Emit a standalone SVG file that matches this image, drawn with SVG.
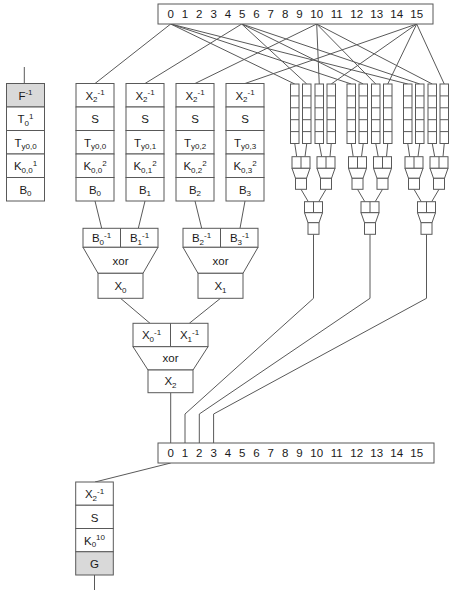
<svg xmlns="http://www.w3.org/2000/svg" width="458" height="600" viewBox="0 0 458 600">
<style>
.b{fill:#fff;stroke:#595959;stroke-width:1}
.g{fill:#d9d9d9;stroke:#595959;stroke-width:1}
.l{fill:none;stroke:#595959;stroke-width:1}
text{font-family:"Liberation Sans",Arial,sans-serif;font-size:11.5px;fill:#1a1a1a;text-anchor:middle}
.n{font-size:11.5px}
.s{font-size:8px}
</style>
<rect width="458" height="600" fill="#fff"/>
<g id="connectors" class="l">
<path d="M170.7 24L95 83.5M170.7 24L294.75 84M170.7 24L351.25 84M170.7 24L407.75 84"/>
<path d="M241.7 24L145 83.5M241.7 24L306.75 84M241.7 24L363.25 84M241.7 24L419.75 84"/>
<path d="M316.7 24L195 83.5M316.7 24L319.25 84M316.7 24L375.75 84M316.7 24L432.25 84"/>
<path d="M416.7 24L245 83.5M416.7 24L331.25 84M416.7 24L387.75 84M416.7 24L444.25 84"/>
<path d="M24.3 67V83.5"/>
<path d="M294.75 143.5L296.7 156.7M306.75 143.5L305 156.7M319.25 143.5L321.7 156.7M331.25 143.5L330 156.7"/>
<path d="M351.25 143.5L353.2 156.7M363.25 143.5L361.5 156.7M375.75 143.5L378.2 156.7M387.75 143.5L386.5 156.7"/>
<path d="M407.75 143.5L409.7 156.7M419.75 143.5L418 156.7M432.25 143.5L434.7 156.7M444.25 143.5L443 156.7"/>
<path d="M301 189.3L308.3 201.7M326 189.3L318.7 201.7M357.5 189.3L364.8 201.7M382.5 189.3L375.2 201.7M414 189.3L421.3 201.7M439 189.3L431.7 201.7"/>
<path d="M313.5 234.3V298.3L185 414V443M370 234.3V298.3L199.3 414V443M426.5 234.3V298.3L213.6 414V443"/>
<path d="M95 201L101.7 228.3M145 201L138.3 228.3M195 201L201.7 228.3M245 201L240 228.3"/>
<path d="M120.5 298.3L150 323.3M220.5 298.3L189.3 323.3"/>
<path d="M170.7 392.7V443"/>
<path d="M170.7 463L95 482M94.5 575V590"/>
</g>
<g id="top-bar">
<rect class="b" x="158" y="4" width="275" height="20"/>
<text class="n" y="18.2"><tspan x="170.7">0</tspan><tspan x="185">1</tspan><tspan x="199.3">2</tspan><tspan x="213.6">3</tspan><tspan x="227.9">4</tspan><tspan x="242.2">5</tspan><tspan x="256.5">6</tspan><tspan x="270.8">7</tspan><tspan x="285.1">8</tspan><tspan x="299.4">9</tspan><tspan x="316.7">10</tspan><tspan x="336.7">11</tspan><tspan x="356.7">12</tspan><tspan x="376.7">13</tspan><tspan x="396.7">14</tspan><tspan x="416.7">15</tspan></text>
</g>
<g id="bottom-bar">
<rect class="b" x="158" y="443" width="276" height="20"/>
<text class="n" y="457.2"><tspan x="170.7">0</tspan><tspan x="185">1</tspan><tspan x="199.3">2</tspan><tspan x="213.6">3</tspan><tspan x="227.9">4</tspan><tspan x="242.2">5</tspan><tspan x="256.5">6</tspan><tspan x="270.8">7</tspan><tspan x="285.1">8</tspan><tspan x="299.4">9</tspan><tspan x="316.7">10</tspan><tspan x="336.7">11</tspan><tspan x="356.7">12</tspan><tspan x="376.7">13</tspan><tspan x="396.7">14</tspan><tspan x="416.7">15</tspan></text>
</g>
<g id="col-f">
<rect class="g" x="6.5" y="83.5" width="38" height="23.5"/>
<rect class="b" x="6.5" y="107" width="38" height="23.5"/>
<rect class="b" x="6.5" y="130.5" width="38" height="23.5"/>
<rect class="b" x="6.5" y="154" width="38" height="23.5"/>
<rect class="b" x="6.5" y="177.5" width="38" height="23.5"/>
<text x="25.5" y="99.5">F<tspan class="s" dy="-4.5">-1</tspan></text>
<text x="25.5" y="123">T<tspan class="s" dy="2.5">0</tspan><tspan class="s" dy="-7">1</tspan></text>
<text x="25.5" y="146.5">T<tspan class="s" dy="2.5">y0,0</tspan></text>
<text x="25.5" y="170">K<tspan class="s" dy="2.5">0,0</tspan><tspan class="s" dy="-7">1</tspan></text>
<text x="25.5" y="193.5">B<tspan class="s" dy="2.5">0</tspan></text>
</g>
<g id="col-b0">
<rect class="b" x="76" y="83.5" width="38" height="23.5"/>
<rect class="b" x="76" y="107" width="38" height="23.5"/>
<rect class="b" x="76" y="130.5" width="38" height="23.5"/>
<rect class="b" x="76" y="154" width="38" height="23.5"/>
<rect class="b" x="76" y="177.5" width="38" height="23.5"/>
<text x="95" y="99.5">X<tspan class="s" dy="2.5">2</tspan><tspan class="s" dy="-7">-1</tspan></text>
<text x="95" y="123">S</text>
<text x="95" y="146.5">T<tspan class="s" dy="2.5">y0,0</tspan></text>
<text x="95" y="170">K<tspan class="s" dy="2.5">0,0</tspan><tspan class="s" dy="-7">2</tspan></text>
<text x="95" y="193.5">B<tspan class="s" dy="2.5">0</tspan></text>
</g>
<g id="col-b1">
<rect class="b" x="126" y="83.5" width="38" height="23.5"/>
<rect class="b" x="126" y="107" width="38" height="23.5"/>
<rect class="b" x="126" y="130.5" width="38" height="23.5"/>
<rect class="b" x="126" y="154" width="38" height="23.5"/>
<rect class="b" x="126" y="177.5" width="38" height="23.5"/>
<text x="145" y="99.5">X<tspan class="s" dy="2.5">2</tspan><tspan class="s" dy="-7">-1</tspan></text>
<text x="145" y="123">S</text>
<text x="145" y="146.5">T<tspan class="s" dy="2.5">y0,1</tspan></text>
<text x="145" y="170">K<tspan class="s" dy="2.5">0,1</tspan><tspan class="s" dy="-7">2</tspan></text>
<text x="145" y="193.5">B<tspan class="s" dy="2.5">1</tspan></text>
</g>
<g id="col-b2">
<rect class="b" x="176" y="83.5" width="38" height="23.5"/>
<rect class="b" x="176" y="107" width="38" height="23.5"/>
<rect class="b" x="176" y="130.5" width="38" height="23.5"/>
<rect class="b" x="176" y="154" width="38" height="23.5"/>
<rect class="b" x="176" y="177.5" width="38" height="23.5"/>
<text x="195" y="99.5">X<tspan class="s" dy="2.5">2</tspan><tspan class="s" dy="-7">-1</tspan></text>
<text x="195" y="123">S</text>
<text x="195" y="146.5">T<tspan class="s" dy="2.5">y0,2</tspan></text>
<text x="195" y="170">K<tspan class="s" dy="2.5">0,2</tspan><tspan class="s" dy="-7">2</tspan></text>
<text x="195" y="193.5">B<tspan class="s" dy="2.5">2</tspan></text>
</g>
<g id="col-b3">
<rect class="b" x="226" y="83.5" width="38" height="23.5"/>
<rect class="b" x="226" y="107" width="38" height="23.5"/>
<rect class="b" x="226" y="130.5" width="38" height="23.5"/>
<rect class="b" x="226" y="154" width="38" height="23.5"/>
<rect class="b" x="226" y="177.5" width="38" height="23.5"/>
<text x="245" y="99.5">X<tspan class="s" dy="2.5">2</tspan><tspan class="s" dy="-7">-1</tspan></text>
<text x="245" y="123">S</text>
<text x="245" y="146.5">T<tspan class="s" dy="2.5">y0,3</tspan></text>
<text x="245" y="170">K<tspan class="s" dy="2.5">0,3</tspan><tspan class="s" dy="-7">2</tspan></text>
<text x="245" y="193.5">B<tspan class="s" dy="2.5">3</tspan></text>
</g>
<g id="xor-x0">
<rect class="b" x="83" y="228.3" width="75" height="19"/>
<path class="l" d="M120.5 228.3V247.3"/>
<path class="b" d="M83 247.3H158L143 273.3H98Z"/>
<rect class="b" x="98" y="273.3" width="45" height="25"/>
<text x="101.5" y="242">B<tspan class="s" dy="2.5">0</tspan><tspan class="s" dy="-7">-1</tspan></text>
<text x="139.5" y="242">B<tspan class="s" dy="2.5">1</tspan><tspan class="s" dy="-7">-1</tspan></text>
<text x="120.5" y="265">xor</text>
<text x="120.5" y="290">X<tspan class="s" dy="2.5">0</tspan></text>
</g>
<g id="xor-x1">
<rect class="b" x="183" y="228.3" width="75" height="19"/>
<path class="l" d="M220.5 228.3V247.3"/>
<path class="b" d="M183 247.3H258L243 273.3H198Z"/>
<rect class="b" x="198" y="273.3" width="45" height="25"/>
<text x="201.5" y="242">B<tspan class="s" dy="2.5">2</tspan><tspan class="s" dy="-7">-1</tspan></text>
<text x="239.5" y="242">B<tspan class="s" dy="2.5">3</tspan><tspan class="s" dy="-7">-1</tspan></text>
<text x="220.5" y="265">xor</text>
<text x="220.5" y="290">X<tspan class="s" dy="2.5">1</tspan></text>
</g>
<g id="xor-x2">
<rect class="b" x="133" y="323.3" width="75" height="23.4"/>
<path class="l" d="M170.5 323.3V346.7"/>
<path class="b" d="M133 346.7H208L193 370H148Z"/>
<rect class="b" x="148" y="370" width="45" height="22.7"/>
<text x="151.5" y="339">X<tspan class="s" dy="2.5">0</tspan><tspan class="s" dy="-7">-1</tspan></text>
<text x="189.5" y="339">X<tspan class="s" dy="2.5">1</tspan><tspan class="s" dy="-7">-1</tspan></text>
<text x="170.5" y="362">xor</text>
<text x="170.5" y="385">X<tspan class="s" dy="2.5">2</tspan></text>
</g>
<g id="col-out">
<rect class="b" x="75.7" y="482" width="37.6" height="23.25"/>
<rect class="b" x="75.7" y="505.25" width="37.6" height="23.25"/>
<rect class="b" x="75.7" y="528.5" width="37.6" height="23.25"/>
<rect class="g" x="75.7" y="551.75" width="37.6" height="23.25"/>
<text x="94.5" y="498">X<tspan class="s" dy="2.5">2</tspan><tspan class="s" dy="-7">-1</tspan></text>
<text x="94.5" y="521.5">S</text>
<text x="94.5" y="544.5">K<tspan class="s" dy="2.5">0</tspan><tspan class="s" dy="-7">10</tspan></text>
<text x="94.5" y="567.5">G</text>
</g>
<g id="tables">
<g class="b">
<rect x="290.5" y="84" width="8.5" height="59.5"/><rect x="302.5" y="84" width="8.5" height="59.5"/><rect x="315" y="84" width="8.5" height="59.5"/><rect x="327" y="84" width="8.5" height="59.5"/>
<rect x="347" y="84" width="8.5" height="59.5"/><rect x="359" y="84" width="8.5" height="59.5"/><rect x="371.5" y="84" width="8.5" height="59.5"/><rect x="383.5" y="84" width="8.5" height="59.5"/>
<rect x="403.5" y="84" width="8.5" height="59.5"/><rect x="415.5" y="84" width="8.5" height="59.5"/><rect x="428" y="84" width="8.5" height="59.5"/><rect x="440" y="84" width="8.5" height="59.5"/>
</g>
<path class="l" d="M290.5 95.9h8.5M290.5 107.8h8.5M290.5 119.7h8.5M290.5 131.6h8.5M302.5 95.9h8.5M302.5 107.8h8.5M302.5 119.7h8.5M302.5 131.6h8.5M315 95.9h8.5M315 107.8h8.5M315 119.7h8.5M315 131.6h8.5M327 95.9h8.5M327 107.8h8.5M327 119.7h8.5M327 131.6h8.5M347 95.9h8.5M347 107.8h8.5M347 119.7h8.5M347 131.6h8.5M359 95.9h8.5M359 107.8h8.5M359 119.7h8.5M359 131.6h8.5M371.5 95.9h8.5M371.5 107.8h8.5M371.5 119.7h8.5M371.5 131.6h8.5M383.5 95.9h8.5M383.5 107.8h8.5M383.5 119.7h8.5M383.5 131.6h8.5M403.5 95.9h8.5M403.5 107.8h8.5M403.5 119.7h8.5M403.5 131.6h8.5M415.5 95.9h8.5M415.5 107.8h8.5M415.5 119.7h8.5M415.5 131.6h8.5M428 95.9h8.5M428 107.8h8.5M428 119.7h8.5M428 131.6h8.5M440 95.9h8.5M440 107.8h8.5M440 119.7h8.5M440 131.6h8.5"/>
</g>
<g id="mux-l1">
<g class="b">
<rect x="292" y="156.7" width="18" height="11.6"/><path d="M292 168.3H310L306.5 178.3H295.5Z"/><rect x="295.5" y="178.3" width="11" height="11"/>
<rect x="317" y="156.7" width="18" height="11.6"/><path d="M317 168.3H335L331.5 178.3H320.5Z"/><rect x="320.5" y="178.3" width="11" height="11"/>
<rect x="348.5" y="156.7" width="18" height="11.6"/><path d="M348.5 168.3H366.5L363 178.3H352Z"/><rect x="352" y="178.3" width="11" height="11"/>
<rect x="373.5" y="156.7" width="18" height="11.6"/><path d="M373.5 168.3H391.5L388 178.3H377Z"/><rect x="377" y="178.3" width="11" height="11"/>
<rect x="405" y="156.7" width="18" height="11.6"/><path d="M405 168.3H423L419.5 178.3H408.5Z"/><rect x="408.5" y="178.3" width="11" height="11"/>
<rect x="430" y="156.7" width="18" height="11.6"/><path d="M430 168.3H448L444.5 178.3H433.5Z"/><rect x="433.5" y="178.3" width="11" height="11"/>
</g>
<path class="l" d="M301 156.7V168.3M326 156.7V168.3M357.5 156.7V168.3M382.5 156.7V168.3M414 156.7V168.3M439 156.7V168.3"/>
</g>
<g id="mux-l2">
<g class="b">
<rect x="304.5" y="201.7" width="18" height="11"/><path d="M304.5 212.7H322.5L319 222.7H308Z"/><rect x="308" y="222.7" width="11" height="11.6"/>
<rect x="361" y="201.7" width="18" height="11"/><path d="M361 212.7H379L375.5 222.7H364.5Z"/><rect x="364.5" y="222.7" width="11" height="11.6"/>
<rect x="417.5" y="201.7" width="18" height="11"/><path d="M417.5 212.7H435.5L432 222.7H421Z"/><rect x="421" y="222.7" width="11" height="11.6"/>
</g>
<path class="l" d="M313.5 201.7V212.7M370 201.7V212.7M426.5 201.7V212.7"/>
</g>
</svg>
